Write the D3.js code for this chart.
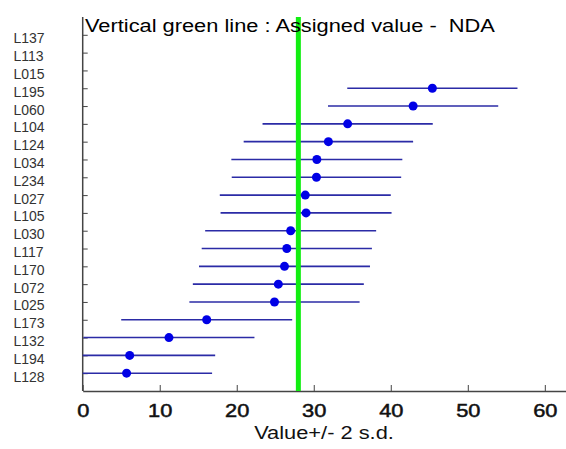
<!DOCTYPE html>
<html>
<head>
<meta charset="utf-8">
<script src="https://cdn.jsdelivr.net/npm/d3@7"></script>
<style>
  body { margin: 0; background: #fff; }
  text { font-family: Arial, "Liberation Sans", sans-serif; }
</style>
</head>
<body>
<div id="chart"></div>
<script>
// labs from top to bottom
const labs = ["L137","L113","L015","L195","L060","L104","L124","L034","L234","L027",
              "L105","L030","L117","L170","L072","L025","L173","L132","L194","L128"];
// reported values (null = no value plotted)
const values = [null,null,null,45.4,42.9,34.4,31.9,30.4,30.35,28.9,
                29.0,27.0,26.5,26.2,25.4,24.9,16.1,11.2,6.1,5.7];
// 2 s.d. half width of each bar
const twoSd = [null,null,null,11.05,11.05,11.05,11.0,11.1,11.0,11.1,
               11.1,11.1,11.05,11.1,11.1,11.05,11.1,11.1,11.1,11.1];
const assigned = 28.0;
const xTicks = [0,10,20,30,40,50,60];

const data = labs.map((lab, i) => ({lab, v: values[i], sd: twoSd[i]}));

const W = 566, H = 449;
const stretch = "scale(1.18,1)"; // the original text is a bit wide
const svg = d3.select("#chart").append("svg")
    .attr("width", W).attr("height", H);

const x = d3.scaleLinear().domain([0, 62.75]).range([82.7, 566]);
const y = d3.scalePoint().domain(labs).range([17, 391]).padding(1);

svg.append("defs").append("clipPath").attr("id", "plot")
  .append("rect").attr("x", x(0)).attr("y", 0).attr("width", W - x(0)).attr("height", H);

// x axis, ticks pointing up
const gx = svg.append("g")
    .attr("transform", `translate(0,391)`)
    .call(d3.axisBottom(x).tickValues(xTicks).tickSizeInner(-6).tickSizeOuter(0).tickPadding(13));
gx.select(".domain").attr("stroke", "#444").attr("stroke-width", 1.5);
gx.selectAll(".tick line").attr("stroke", "#444");
gx.selectAll(".tick text")
    .attr("font-size", 18.5).attr("fill", "#111")
    .attr("stroke", "#111").attr("stroke-width", 0.5)
    .attr("transform", stretch)
    .attr("font-family", "Arial, sans-serif");

// y axis, ticks pointing right, labels drawn separately
const gy = svg.append("g")
    .attr("transform", `translate(${x(0)},0)`)
    .call(d3.axisLeft(y).tickSizeInner(-5).tickSizeOuter(0).tickFormat(""));
gy.select(".domain").attr("stroke", "#444").attr("stroke-width", 1.5)
    .attr("d", "M0,17V391");
gy.selectAll(".tick line").attr("stroke", "#444");

svg.append("g").selectAll("text")
  .data(labs)
  .join("text")
    .attr("x", 13.5)
    .attr("y", d => y(d))
    .attr("dy", 8.5)
    .attr("font-size", 14)
    .attr("fill", "#333")
    .text(d => d);

// error bars
const pts = data.filter(d => d.v != null);
svg.append("g").attr("clip-path", "url(#plot)")
  .selectAll("line")
  .data(pts)
  .join("line")
    .attr("x1", d => x(d.v - d.sd))
    .attr("x2", d => x(d.v + d.sd))
    .attr("y1", d => y(d.lab))
    .attr("y2", d => y(d.lab))
    .attr("stroke", "#2b2ba6")
    .attr("stroke-width", 1.6);

// assigned value line
svg.append("line")
    .attr("x1", x(assigned)).attr("x2", x(assigned))
    .attr("y1", 17).attr("y2", 391)
    .attr("stroke", "#11ee11").attr("stroke-width", 5);

// title (drawn over the green line)
svg.append("text")
    .attr("transform", `translate(85,31.5) ${stretch}`)
    .attr("font-size", 18.5).attr("fill", "#000")
    .text("Vertical green line : Assigned value -\u00a0 NDA");

// points
svg.append("g")
  .selectAll("circle")
  .data(pts)
  .join("circle")
    .attr("cx", d => x(d.v))
    .attr("cy", d => y(d.lab))
    .attr("r", 4.5)
    .attr("fill", "#0000e6");

// x axis title
svg.append("text")
    .attr("transform", `translate(324,438.5) ${stretch}`)
    .attr("text-anchor", "middle")
    .attr("font-size", 18.5).attr("fill", "#111")
    .text("Value+/- 2 s.d.");
</script>
</body>
</html>
